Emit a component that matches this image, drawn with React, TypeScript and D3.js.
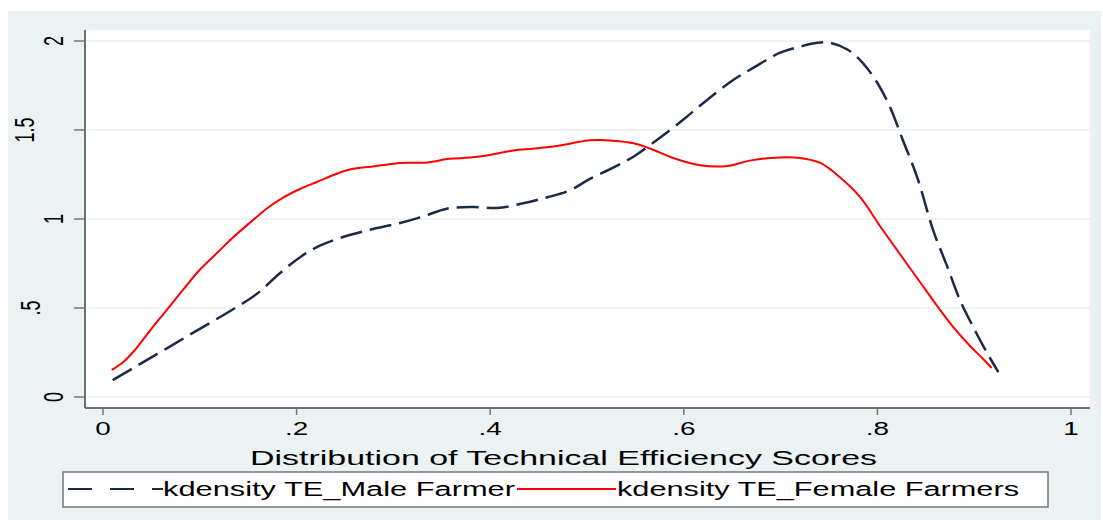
import React from 'react';
import * as d3 from 'd3';

// kernel density estimates
const femaleX = [0.009, 0.021, 0.033, 0.049, 0.066, 0.083, 0.1, 0.118, 0.134, 0.152, 0.169, 0.186, 0.204, 0.221, 0.238, 0.255, 0.273, 0.29, 0.307, 0.335, 0.358, 0.379, 0.4, 0.424, 0.444, 0.469, 0.486, 0.503, 0.527, 0.548, 0.565, 0.589, 0.617, 0.645, 0.668, 0.699, 0.72, 0.741, 0.761, 0.782, 0.803, 0.823, 0.844, 0.862, 0.878, 0.896, 0.909, 0.918];
const femaleY = [0.152, 0.197, 0.264, 0.376, 0.49, 0.605, 0.715, 0.81, 0.895, 0.98, 1.058, 1.12, 1.17, 1.208, 1.247, 1.278, 1.292, 1.303, 1.315, 1.318, 1.338, 1.345, 1.36, 1.385, 1.395, 1.41, 1.427, 1.442, 1.44, 1.425, 1.396, 1.343, 1.302, 1.298, 1.328, 1.346, 1.343, 1.315, 1.236, 1.124, 0.958, 0.805, 0.646, 0.51, 0.395, 0.285, 0.215, 0.163];

const maleX = [0.01, 0.036, 0.069, 0.1, 0.131, 0.159, 0.183, 0.204, 0.224, 0.248, 0.279, 0.307, 0.331, 0.355, 0.382, 0.407, 0.434, 0.459, 0.482, 0.503, 0.527, 0.548, 0.568, 0.599, 0.624, 0.651, 0.672, 0.699, 0.72, 0.738, 0.751, 0.769, 0.785, 0.8, 0.813, 0.826, 0.841, 0.858, 0.872, 0.885, 0.899, 0.913, 0.925];
const maleY = [0.095, 0.178, 0.283, 0.383, 0.482, 0.58, 0.697, 0.787, 0.85, 0.899, 0.944, 0.978, 1.015, 1.058, 1.067, 1.062, 1.088, 1.122, 1.16, 1.225, 1.288, 1.35, 1.427, 1.556, 1.669, 1.781, 1.85, 1.933, 1.968, 1.99, 1.99, 1.952, 1.876, 1.764, 1.629, 1.447, 1.236, 0.93, 0.735, 0.548, 0.393, 0.25, 0.14];

const xTicks = [0, 0.2, 0.4, 0.6, 0.8, 1];
const xTickLabels = ['0', '.2', '.4', '.6', '.8', '1'];
const yTicks = [0, 0.5, 1, 1.5, 2];
const yTickLabels = ['0', '.5', '1', '1.5', '2'];

const xTitle = 'Distribution of Technical Efficiency Scores';
const seriesNames = ['kdensity TE_Male Farmer', 'kdensity TE_Female Farmers'];

const W = 1103;
const H = 520;
const plot = { left: 85, right: 1090, top: 30, bottom: 408 };
const bg = '#eaf2f3';
const font = "'Liberation Sans', Arial, sans-serif";
const stretch = 1.55;

const App: React.FC = () => {
  const x = d3.scaleLinear().domain([0, 1]).range([103, 1071]);
  const y = d3.scaleLinear().domain([0, 2]).range([397, 41]);

  const line = d3.line<[number, number]>()
    .x(d => x(d[0]))
    .y(d => y(d[1]))
    .curve(d3.curveCatmullRom.alpha(0.5));

  const female = femaleX.map((v, i) => [v, femaleY[i]] as [number, number]);
  const male = maleX.map((v, i) => [v, maleY[i]] as [number, number]);

  // labels with a decimal point sit further from the axis in the original
  const yLabelBase = (lab: string) => lab.includes('.') ? (lab.length > 2 ? 34 : 40) : 63;

  return (
    <svg width={W} height={H} style={{ position: 'absolute', left: 0, top: 0 }} fontFamily={font}>
      <rect x={0} y={0} width={W} height={H} fill="#fff" />
      <rect x={8} y={11} width={1093} height={H - 11} fill={bg} />
      <rect x={plot.left} y={plot.top} width={plot.right - plot.left} height={plot.bottom - plot.top} fill="#fff" />

      {yTicks.map(t => (
        <line key={'g' + t} x1={plot.left} x2={plot.right} y1={y(t)} y2={y(t)} stroke={bg} strokeWidth={1.5} />
      ))}

      {/* axes */}
      <line x1={plot.left} x2={plot.left} y1={plot.top} y2={plot.bottom} stroke="#444" strokeWidth={1.5} />
      <line x1={plot.left} x2={plot.right} y1={plot.bottom} y2={plot.bottom} stroke="#444" strokeWidth={1.5} />

      {yTicks.map((t, i) => (
        <g key={'y' + t}>
          <line x1={74} x2={plot.left} y1={y(t)} y2={y(t)} stroke="#777" strokeWidth={1.5} />
          <text
            transform={`translate(${yLabelBase(yTickLabels[i])},${y(t)}) scale(${stretch},1) rotate(-90)`}
            textAnchor="middle"
            fontSize={18}
            fill="#000"
          >{yTickLabels[i]}</text>
        </g>
      ))}

      {xTicks.map((t, i) => (
        <g key={'x' + t}>
          <line x1={x(t)} x2={x(t)} y1={plot.bottom} y2={plot.bottom + 7} stroke="#777" strokeWidth={1.5} />
          <text
            transform={`translate(${x(t)},435) scale(${stretch},1)`}
            textAnchor="middle"
            fontSize={18}
            fill="#000"
          >{xTickLabels[i]}</text>
        </g>
      ))}

      <path d={line(female) || ''} fill="none" stroke="#ff0000" strokeWidth={2} />
      <path d={line(male) || ''} fill="none" stroke="#1c2a4a" strokeWidth={2.5} strokeDasharray="22,8" />

      <text x={250} y={465} fontSize={21} textLength={627} lengthAdjust="spacingAndGlyphs" fill="#000">{xTitle}</text>

      {/* legend */}
      <rect x={63} y={472} width={985} height={35} fill="#fff" stroke="#777" strokeWidth={1.5} />
      <line x1={68} x2={163} y1={489} y2={489} stroke="#1c2a4a" strokeWidth={2} strokeDasharray="24,18" />
      <text x={163} y={496} fontSize={20} textLength={352} lengthAdjust="spacingAndGlyphs" fill="#000">{seriesNames[0]}</text>
      <line x1={517} x2={616} y1={489} y2={489} stroke="#ff0000" strokeWidth={2} />
      <text x={617} y={496} fontSize={20} textLength={402} lengthAdjust="spacingAndGlyphs" fill="#000">{seriesNames[1]}</text>
    </svg>
  );
};

export default App;
